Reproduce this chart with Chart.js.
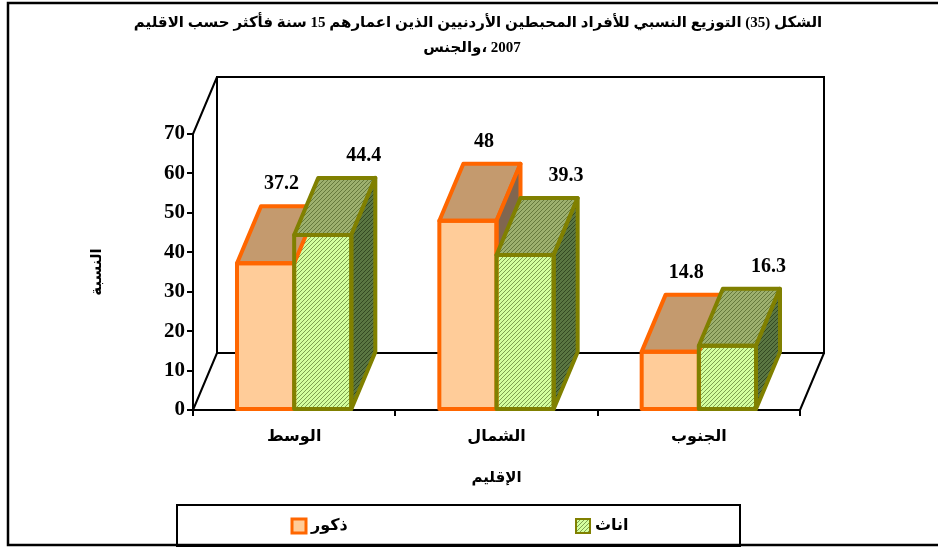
<!DOCTYPE html>
<html>
<head>
<meta charset="utf-8">
<script src="https://cdn.jsdelivr.net/npm/chart.js@4.4.1/dist/chart.umd.min.js"></script>
<style>
  html, body { margin: 0; padding: 0; background: #fff; }
  #wrap { width: 938px; height: 547px; }
</style>
</head>
<body>
<div id="wrap"><canvas id="chart" width="938" height="547"></canvas></div>
<script>
const regions = ['الوسط', 'الشمال', 'الجنوب'];
const males = [37.2, 48, 14.8];
const females = [44.4, 39.3, 16.3];
const yTicks = [0, 10, 20, 30, 40, 50, 60, 70];
const seriesNames = ['ذكور', 'اناث'];
const titleLines = [
    'الشكل (35) التوزيع النسبي للأفراد المحبطين الأردنيين الذين اعمارهم 15 سنة فأكثر حسب الاقليم',
    'والجنس\u200E، 2007'
];

// depth of the 3d boxes and walls
const DX = 24, DY = -57;

const arabicFont = '"Liberation Serif", "DejaVu Sans", serif';

// small hatch fill used on the green boxes
function hatch(base, line) {
    let c = document.createElement('canvas');
    c.width = 4; c.height = 4;
    let g = c.getContext('2d');
    g.fillStyle = base;
    g.fillRect(0, 0, 4, 4);
    g.fillStyle = line;
    for (let i = 0; i < 4; i++) g.fillRect(i, 3 - i, 1, 1);
    return g.createPattern(c, 'repeat');
}

const maleFaces = { front: '#FFCC99', top: '#C49A6E', side: '#806650', edge: '#FF6600' };
const femaleFaces = {
    front: hatch('#D4FF9E', '#7FA050'),
    top: hatch('#9DB06E', '#667A3C'),
    side: hatch('#5A7642', '#344A22'),
    edge: '#808000'
};

function barBox(bar) {
    let p = bar.getProps(['x', 'y', 'base', 'width'], true);
    return { x0: p.x - p.width / 2, x1: p.x + p.width / 2, y: p.y, base: p.base, cx: p.x };
}

function drawTop(ctx, b, faces) {
    ctx.beginPath();
    ctx.moveTo(b.x0, b.y);
    ctx.lineTo(b.x1, b.y);
    ctx.lineTo(b.x1 + DX, b.y + DY);
    ctx.lineTo(b.x0 + DX, b.y + DY);
    ctx.closePath();
    ctx.fillStyle = faces.top;
    ctx.fill();
    ctx.stroke();
}

function drawSide(ctx, b, faces) {
    ctx.beginPath();
    ctx.moveTo(b.x1, b.y);
    ctx.lineTo(b.x1 + DX, b.y + DY);
    ctx.lineTo(b.x1 + DX, b.base + DY);
    ctx.lineTo(b.x1, b.base);
    ctx.closePath();
    ctx.fillStyle = faces.side;
    ctx.fill();
    ctx.stroke();
}

function drawFrontEdge(ctx, b) {
    ctx.strokeRect(b.x0, b.y, b.x1 - b.x0, b.base - b.y);
}

const box3d = {
    id: 'box3d',
    beforeDraw(chart) {
        let ctx = chart.ctx;
        ctx.save();
        ctx.fillStyle = '#fff';
        ctx.fillRect(0, 0, chart.width, chart.height);
        ctx.restore();
    },
    beforeDatasetsDraw(chart) {
        // back wall and floor
        let ctx = chart.ctx;
        let a = chart.chartArea;
        ctx.save();
        ctx.strokeStyle = '#000';
        ctx.lineWidth = 2;
        ctx.strokeRect(a.left + DX, a.top + DY, a.right - a.left, a.bottom - a.top);
        ctx.beginPath();
        ctx.moveTo(a.left, a.top); ctx.lineTo(a.left + DX, a.top + DY);
        ctx.moveTo(a.left, a.bottom); ctx.lineTo(a.left + DX, a.bottom + DY);
        ctx.moveTo(a.right, a.bottom); ctx.lineTo(a.right + DX, a.bottom + DY);
        ctx.stroke();
        ctx.restore();
    },
    afterDatasetsDraw(chart) {
        let ctx = chart.ctx;
        let mMeta = chart.getDatasetMeta(0);
        let fMeta = chart.getDatasetMeta(1);
        ctx.save();
        ctx.lineWidth = 4;
        ctx.lineJoin = 'round';
        mMeta.data.forEach((mBar, i) => {
            let m = barBox(mBar);
            let f = barBox(fMeta.data[i]);

            ctx.strokeStyle = maleFaces.edge;
            drawTop(ctx, m, maleFaces);
            // the male side only shows above the female front face
            ctx.save();
            ctx.beginPath();
            ctx.rect(0, 0, chart.width, f.y);
            ctx.clip();
            drawSide(ctx, m, maleFaces);
            ctx.restore();
            drawFrontEdge(ctx, m);

            ctx.strokeStyle = femaleFaces.edge;
            drawTop(ctx, f, femaleFaces);
            drawSide(ctx, f, femaleFaces);
            drawFrontEdge(ctx, f);
        });
        ctx.restore();

        // value labels
        ctx.save();
        ctx.fillStyle = '#000';
        ctx.font = 'bold 20px "Liberation Serif", serif';
        ctx.textAlign = 'center';
        ctx.textBaseline = 'middle';
        mMeta.data.forEach((bar, i) => {
            let b = barBox(bar);
            ctx.fillText(String(males[i]), b.cx + 16, b.y + DY - 22);
        });
        fMeta.data.forEach((bar, i) => {
            let b = barBox(bar);
            ctx.fillText(String(females[i]), b.cx + 41, b.y + DY - 22);
        });
        ctx.restore();
    },
    afterDraw(chart) {
        let ctx = chart.ctx;
        ctx.save();

        // title
        ctx.fillStyle = '#000';
        ctx.font = 'bold 15px ' + arabicFont;
        ctx.textAlign = 'center';
        ctx.textBaseline = 'middle';
        ctx.fillText(titleLines[0], 478, 23);
        ctx.fillText(titleLines[1], 472, 48);

        // legend
        ctx.lineWidth = 2;
        ctx.strokeStyle = '#000';
        ctx.strokeRect(177, 505, 563, 41);
        let items = [
            { x: 299, fill: maleFaces.front, edge: maleFaces.edge, lw: 3 },
            { x: 583, fill: femaleFaces.front, edge: femaleFaces.edge, lw: 2 }
        ];
        ctx.font = 'bold 16px ' + arabicFont;
        ctx.textAlign = 'left';
        items.forEach((it, i) => {
            ctx.fillStyle = it.fill;
            ctx.fillRect(it.x - 7, 519, 14, 14);
            ctx.strokeStyle = it.edge;
            ctx.lineWidth = it.lw;
            ctx.strokeRect(it.x - 7, 519, 14, 14);
            ctx.fillStyle = '#000';
            ctx.fillText(seriesNames[i], it.x + 12, 526);
        });

        // outer frame
        ctx.strokeStyle = '#000';
        ctx.lineWidth = 2.5;
        ctx.strokeRect(8, 3, 940, 542);
        ctx.restore();
    }
};

new Chart(document.getElementById('chart'), {
    type: 'bar',
    data: {
        labels: regions,
        datasets: [
            {
                label: seriesNames[0],
                data: males,
                backgroundColor: maleFaces.front,
                borderColor: maleFaces.edge,
                borderWidth: 0
            },
            {
                label: seriesNames[1],
                data: females,
                backgroundColor: femaleFaces.front,
                borderColor: femaleFaces.edge,
                borderWidth: 0
            }
        ]
    },
    options: {
        responsive: false,
        animation: false,
        events: [],
        layout: { padding: { left: 83, right: 138, top: 134, bottom: 57 } },
        datasets: {
            bar: { categoryPercentage: 0.565, barPercentage: 1, inflateAmount: 0 }
        },
        plugins: {
            legend: { display: false },
            title: { display: false },
            tooltip: { enabled: false }
        },
        scales: {
            x: {
                afterFit(scale) { scale.height = 80; },
                border: { display: true, color: '#000', width: 2 },
                grid: { drawOnChartArea: false, color: '#000', lineWidth: 2, tickLength: 6, offset: true },
                ticks: { color: '#000', padding: 11, font: { family: arabicFont, size: 16, weight: 'bold' } },
                title: {
                    display: true,
                    text: 'الإقليم',
                    color: '#000',
                    padding: { top: 0, bottom: 3 },
                    font: { family: arabicFont, size: 15, weight: 'bold' }
                }
            },
            y: {
                min: 0,
                max: 70,
                afterFit(scale) { scale.width = 110; },
                afterBuildTicks(scale) { scale.ticks = yTicks.map(v => ({ value: v })); },
                border: { display: true, color: '#000', width: 2 },
                grid: { drawOnChartArea: false, color: '#000', lineWidth: 2, tickLength: 6 },
                ticks: { color: '#000', padding: 2, font: { family: '"Liberation Serif", serif', size: 21, weight: 'bold' } },
                title: {
                    display: true,
                    text: 'النسبة',
                    color: '#000',
                    padding: { top: 5, bottom: 0 },
                    font: { family: arabicFont, size: 15, weight: 'bold' }
                }
            }
        }
    },
    plugins: [box3d]
});
</script>
</body>
</html>
